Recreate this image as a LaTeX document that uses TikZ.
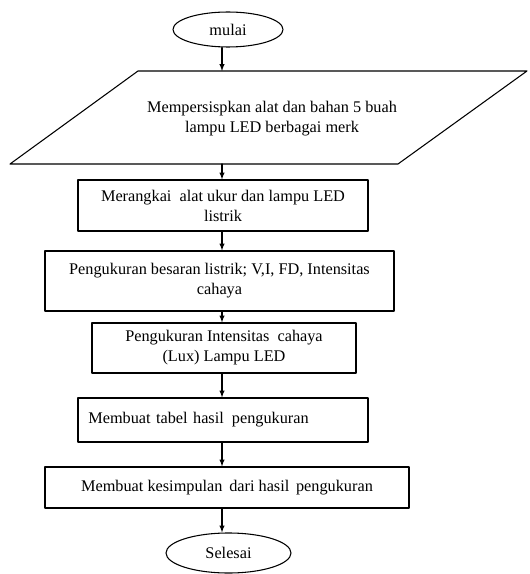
\documentclass[tikz,border=0pt]{standalone}
\usepackage{fontspec}
\setmainfont{Liberation Serif}
\usetikzlibrary{shapes.geometric}
\begin{document}
\begin{tikzpicture}[x=0.75pt, y=-0.75pt, font=\fontsize{12.2}{15}\selectfont, line join=round, line cap=round, >=latex,
		every path/.style={line width=0.8pt},
		startend/.style={draw, ellipse, inner sep=0pt},
		kotak/.style={draw, rectangle, align=center, inner sep=0pt}]
			\useasboundingbox (0,0) rectangle (530,574);
			\node (mulai) at (228,29.5) [startend, minimum width=82.5pt, minimum height=26.25pt] {mulai};
			% jajar genjang masukan
			\draw (138,71) -- (527,71) -- (398,164) -- (10,164) -- cycle;
			\coordinate (siapatas) at (222,71);
			\coordinate (siapbawah) at (222,164);
			\node (siap) at (272,119) [align=center] {Mempersispkan alat dan bahan 5 buah\\ lampu LED berbagai merk};
			\node (rangkai) at (223,205.5) [kotak, minimum width=217.5pt, minimum height=38.25pt] {Merangkai\ \ alat ukur\ dan lampu LED\\ listrik};
			\node (ukurlistrik) at (219.5,281) [kotak, minimum width=261.75pt, minimum height=45pt] {Pengukuran besaran listrik; V,I, FD, Intensitas\\ cahaya};
			\node (ukurlux) at (224,348) [kotak, minimum width=198pt, minimum height=37.5pt] {Pengukuran Intensitas\ \ cahaya\\ (Lux) Lampu LED};
			\node (tabel) at (223,420) [kotak, minimum width=217.5pt, minimum height=33pt, text width=202pt, align=left] {Membuat tabel hasil\hspace{2pt} pengukuran};
			\node (simpul) at (227,487.5) [kotak, minimum width=273pt, minimum height=30.75pt] {Membuat kesimpulan\hspace{2pt} dari hasil\hspace{2pt} pengukuran};
			\node (selesai) at (228.5,553) [startend, minimum width=93.75pt, minimum height=30pt] {Selesai};
			% panah alur
			\draw[->] (222,0 |- mulai.south) -- (siapatas);
			\draw[->] (siapbawah) -- (222,0 |- rangkai.north);
			\draw[->] (222,0 |- rangkai.south) -- (222,0 |- ukurlistrik.north);
			\draw[->] (222,0 |- ukurlistrik.south) -- (222,0 |- ukurlux.north);
			\draw[->] (222,0 |- ukurlux.south) -- (222,0 |- tabel.north);
			\draw[->] (222,0 |- tabel.south) -- (222,0 |- simpul.north);
			\draw[->] (222,0 |- simpul.south) -- (222,0 |- selesai.north);
		\end{tikzpicture}
\end{document}
